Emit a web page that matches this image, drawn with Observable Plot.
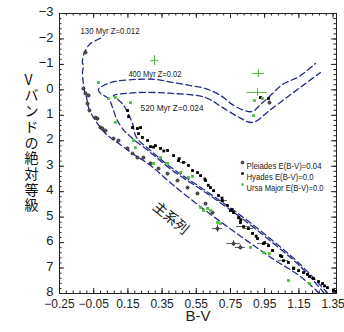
<!DOCTYPE html>
<html><head><meta charset="utf-8">
<script src="https://cdn.jsdelivr.net/npm/d3@7"></script>
<script src="https://cdn.jsdelivr.net/npm/@observablehq/plot@0.6"></script>
<style>html,body{margin:0;padding:0;background:#fff;}</style>
</head><body><div id="chart"></div>
<script>
// ---- tick labels ----
const xTickLabels = [-0.25,-0.05,0.15,0.35,0.55,0.75,0.95,1.15,1.35];
const yTickLabels = [-3,-2,-1,0,1,2,3,4,5,6,7,8];

// ---- isochrones [B-V, Mv] ----
const iso130 = [[-0.010,-2.02],[-0.069,-1.82],[-0.098,-1.55],[-0.110,-1.35],[-0.116,-1.08],[-0.110,-0.96],[-0.116,-0.68],[-0.110,-0.25],[-0.104,0.03],[-0.092,0.30],[-0.080,0.69],[-0.051,1.09],[-0.010,1.48],[0.031,1.79],[0.089,2.07],[0.177,2.50],[0.282,2.97],[0.411,3.72],[0.604,4.74],[0.803,5.72],[0.996,6.63],[1.159,7.33],[1.270,8.0]];
const iso400 = [[1.30,8.0],[1.159,6.94],[0.996,6.00],[0.803,4.98],[0.604,4.03],[0.411,3.17],[0.282,2.46],[0.177,1.91],[0.118,1.52],[0.083,1.13],[0.060,0.69],[0.037,0.34],[-0.010,0.14],[-0.022,-0.01],[0.007,-0.17],[0.077,-0.33],[0.194,-0.41],[0.311,-0.41],[0.411,-0.29],[0.516,-0.17],[0.604,-0.05],[0.692,0.22],[0.762,0.58],[0.832,0.81],[0.879,0.85],[0.925,0.58],[0.984,0.22],[1.054,-0.21],[1.153,-0.53],[1.247,-1.04]];
const iso520 = [[1.32,8.0],[1.159,6.86],[0.996,5.92],[0.803,4.90],[0.604,3.96],[0.411,3.09],[0.282,2.38],[0.200,1.87],[0.177,1.32],[0.148,0.89],[0.118,0.54],[0.077,0.30],[0.066,0.22],[0.136,0.14],[0.253,0.10],[0.411,0.14],[0.604,0.30],[0.703,0.69],[0.803,1.09],[0.879,1.28],[0.978,0.81],[1.095,0.22],[1.189,-0.25],[1.276,-0.68]];

// ---- clusters [B-V, Mv] ----
const pleiades = [[-0.098,-1.47],[-0.110,-0.05],[-0.098,0.14],[-0.080,0.22],[-0.086,0.54],[-0.075,0.81],[-0.039,1.09],[-0.028,1.13],[-0.010,1.48],[0.001,1.52],[0.019,1.60],[0.066,1.91],[0.095,1.99],[0.148,2.30],[0.177,2.50],[0.206,2.66],[0.241,2.66],[0.282,2.89],[0.329,3.09],[0.382,3.29],[0.440,3.56],[0.499,3.84],[0.557,4.07],[0.604,4.47],[0.645,4.82],[0.674,5.45],[0.768,6.04],[0.808,6.19],[0.978,0.50]];
const hyades = [[0.148,0.81],[0.154,1.05],[0.177,1.48],[0.206,1.52],[0.224,1.48],[0.212,1.72],[0.235,1.87],[0.265,1.99],[0.282,2.23],[0.311,2.19],[0.30,2.25],[0.341,2.30],[0.36,2.40],[0.382,2.38],[0.417,2.58],[0.446,2.78],[0.45,2.70],[0.475,2.85],[0.504,2.97],[0.528,3.17],[0.557,3.25],[0.575,3.37],[0.604,3.56],[0.60,3.50],[0.62,3.75],[0.633,3.84],[0.651,3.96],[0.680,4.15],[0.70,4.25],[0.703,4.35],[0.732,4.54],[0.750,4.74],[0.76,4.70],[0.768,4.82],[0.797,5.02],[0.81,5.10],[0.808,5.21],[0.826,5.37],[0.855,5.45],[0.879,5.64],[0.90,5.75],[0.908,5.84],[0.943,6.04],[0.95,6.00],[0.972,6.12],[0.996,6.31],[1.042,6.51],[1.05,6.55],[1.060,6.71],[1.089,6.78],[1.118,7.02],[1.12,7.00],[1.148,7.10],[1.177,7.18],[1.20,7.25],[1.212,7.33],[1.235,7.41],[1.265,7.53],[1.288,7.61],[1.30,7.70],[1.317,7.77],[1.352,7.88],[1.365,7.92],[0.925,0.30],[0.972,0.34]];
const ursaMajor = [[-0.022,-0.29],[0.037,0.34],[0.077,0.30],[0.165,0.50],[0.077,1.28],[0.183,1.99],[0.194,2.27],[0.300,2.89],[0.341,2.66],[0.382,2.89],[0.458,3.25],[0.504,3.44],[0.528,3.40],[0.575,4.62],[0.592,4.74],[0.616,4.66],[0.633,4.74],[0.674,5.21],[0.692,5.25],[0.867,6.19],[0.943,6.39],[0.978,6.43],[1.089,7.49],[1.212,7.61],[0.890,0.42],[0.885,1.01],[0.937,0.34]];
// error-bar points [B-V, Mv, ±B-V, ±Mv]
const ursaErr = [[0.306,-1.15,0.023,0.20],[0.914,-0.64,0.035,0.15],[0.908,0.10,0.06,0.15]];
const blackErr = [[0.826,5.37,0.04,0],[0.943,6.04,0.035,0],[0.703,4.35,0.03,0],[1.060,6.71,0.03,0],[0.855,5.45,0.03,0],[0.475,2.85,0.02,0],[0.674,5.45,0.03,0.15],[0.768,6.04,0.04,0.12],[0.808,6.19,0.03,0.10]];

const annotations = [
  {bv:-0.127, M:-2.33, label:"130 Myr Z=0.012"},
  {bv:0.153, M:-0.64, label:"400 Myr Z=0.02"},
  {bv:0.224, M:0.73, label:"520 Myr Z=0.024"}
];
const annotationWidths = [59, 53, 63];
const legendNames = ["Pleiades E(B-V)=0.04","Hyades E(B-V)=0.0","Ursa Major E(B-V)=0.0"];
const legendWidths = [75, 67, 77];

const toObj = a => a.map(([bv,M,ex,ey]) => ({bv, M, ex, ey}));
const iso = [
  ...toObj(iso130).map(d => ({...d, s:"130"})),
  ...toObj(iso400).map(d => ({...d, s:"400"})),
  ...toObj(iso520).map(d => ({...d, s:"520"}))
];
const navy = "#232c86", green = "#4cbf3c";
const font = "'Liberation Sans',Arial,sans-serif";

const xMinor = d3.range(-0.25, 1.371, 0.04);
const yMinor = d3.range(-3, 8.001, 0.2);

const chart = Plot.plot({
  width: 344, height: 332,
  marginLeft: 59, marginRight: 8, marginTop: 13, marginBottom: 39,
  x: {domain: [-0.25, 1.37]},
  y: {domain: [-3, 8], reverse: true},
  style: {fontFamily: font, fontSize: "12px", color: "#222", background: "#fff"},
  marks: [
    Plot.axisX(xTickLabels, {anchor: "bottom", tickSize: 0, tickPadding: 6, fontSize: 12, tickFormat: d3.format(".2f"), label: null}),
    Plot.axisY(yTickLabels, {anchor: "left", tickSize: 0, tickPadding: 6, fontSize: 13, dy: -1.5, label: null}),
    // inward ticks on all four sides
    Plot.tickX(xTickLabels, {x: d => d, insetTop: 275, stroke: "#222"}),
    Plot.tickX(xMinor, {x: d => d, insetTop: 277.5, stroke: "#222"}),
    Plot.tickX(xTickLabels, {x: d => d, insetBottom: 275, stroke: "#222"}),
    Plot.tickX(xMinor, {x: d => d, insetBottom: 277.5, stroke: "#222"}),
    Plot.tickY(yTickLabels, {y: d => d, insetRight: 272, stroke: "#222"}),
    Plot.tickY(yMinor, {y: d => d, insetRight: 274.5, stroke: "#222"}),
    Plot.tickY(yTickLabels, {y: d => d, insetLeft: 272, stroke: "#222"}),
    Plot.tickY(yMinor, {y: d => d, insetLeft: 274.5, stroke: "#222"}),
    Plot.frame({stroke: "#222"}),
    // isochrones
    Plot.line(iso, {x: "bv", y: "M", z: "s", stroke: navy, strokeWidth: 1.3, strokeDasharray: "6,3.5", curve: "catmull-rom", clip: true}),
    // error bars
    Plot.ruleY(toObj(blackErr), {y: "M", x1: d => d.bv - d.ex, x2: d => d.bv + d.ex, stroke: "#333", strokeWidth: 0.8}),
    Plot.ruleX(toObj(blackErr).filter(d => d.ey > 0), {x: "bv", y1: d => d.M - d.ey, y2: d => d.M + d.ey, stroke: "#333", strokeWidth: 0.8}),
    Plot.ruleY(toObj(ursaErr), {y: "M", x1: d => d.bv - d.ex, x2: d => d.bv + d.ex, stroke: green, strokeWidth: 1}),
    Plot.ruleX(toObj(ursaErr), {x: "bv", y1: d => d.M - d.ey, y2: d => d.M + d.ey, stroke: green, strokeWidth: 1}),
    // clusters
    Plot.dot(toObj(pleiades), {x: "bv", y: "M", r: 1.6, fill: "#555", stroke: "#111", strokeWidth: 0.6}),
    Plot.dot(toObj(hyades), {x: "bv", y: "M", symbol: "square", r: 1.6, fill: "#000"}),
    Plot.dot(toObj(ursaMajor), {x: "bv", y: "M", symbol: "square", r: 1.6, fill: green}),
    // annotations
    Plot.text(annotations, {x: "bv", y: "M", text: "label", textAnchor: "start", fontSize: 9.5, fill: "#222", className: "narrow-anno"}),
    Plot.text(["主系列"], {x: () => 0.40, y: () => 5.05, text: d => d, rotate: 40, fontSize: 14, fontFamily: "'Noto Sans CJK JP',sans-serif", fill: "#111"}),
    // legend
    Plot.dot([legendNames[0]], {frameAnchor: "top-left", dx: 183, dy: 149, r: 1.5, fill: "#555", stroke: "#111", strokeWidth: 0.6}),
    Plot.dot([legendNames[1]], {frameAnchor: "top-left", dx: 183, dy: 160, symbol: "square", r: 1.4, fill: "#000"}),
    Plot.dot([legendNames[2]], {frameAnchor: "top-left", dx: 183, dy: 171, symbol: "square", r: 1.4, fill: green}),
    Plot.text([legendNames[0]], {frameAnchor: "top-left", dx: 187, dy: 149, text: d => d, textAnchor: "start", fontSize: 9.5, fill: "#222", className: "narrow-leg0"}),
    Plot.text([legendNames[1]], {frameAnchor: "top-left", dx: 187, dy: 160, text: d => d, textAnchor: "start", fontSize: 9.5, fill: "#222", className: "narrow-leg1"}),
    Plot.text([legendNames[2]], {frameAnchor: "top-left", dx: 187, dy: 171, text: d => d, textAnchor: "start", fontSize: 9.5, fill: "#222", className: "narrow-leg2"}),
    // axis titles
    Plot.text(["B-V"], {frameAnchor: "bottom", dy: 27, text: d => d, fontSize: 15, fill: "#222"}),
    Plot.text(["V\nバ\nン\nド\nの\n絶\n対\n等\n級"], {frameAnchor: "left", dx: -35, dy: -11, text: d => d, fontSize: 14, lineHeight: 1.12, fill: "#111", fontFamily: "'Noto Sans CJK JP',sans-serif"})
  ]
});
document.getElementById("chart").appendChild(chart);
// condense the small labels to the reference's narrow typeface widths
d3.select(chart).selectAll(".narrow-anno text").each(function(d, i) {
  d3.select(this).attr("textLength", annotationWidths[i]).attr("lengthAdjust", "spacingAndGlyphs");
});
[0,1,2].forEach(i => {
  d3.select(chart).selectAll(`.narrow-leg${i} text`).attr("textLength", legendWidths[i]).attr("lengthAdjust", "spacingAndGlyphs");
});
</script>
</body></html>
